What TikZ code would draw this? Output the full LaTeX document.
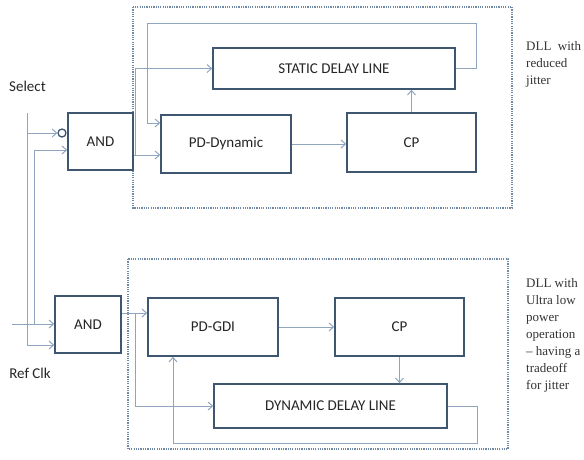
\documentclass[tikz,border=0pt]{standalone}
\usepackage{fontspec}
\setmainfont{Carlito}
\newfontfamily\notefont[Ligatures=TeX]{Liberation Serif}
\usetikzlibrary{arrows.meta,calc}
\definecolor{boxc}{HTML}{3F5670}
\definecolor{wirec}{HTML}{8FA5BD}
\definecolor{framec}{HTML}{7089A5}
\definecolor{notec}{HTML}{333333}
\begin{document}
\begin{tikzpicture}[x=1pt,y=-1pt,
  blk/.style={draw=boxc, line width=1.5pt, fill=white, inner sep=0pt,
    font=\fontsize{15}{18}\selectfont, text=black!85},
  wire/.style={draw=wirec, line width=1pt},
  arr/.style={wire, -{Straight Barb[length=4.5pt,width=8pt]}},
  frame/.style={draw=framec, line width=1.8pt, dash pattern=on 1.2pt off 1.1pt},
  lbl/.style={font=\fontsize{15}{18}\selectfont, text=black!85, inner sep=0pt},
  note/.style={font=\notefont\fontsize{13}{17}\selectfont, text=notec,
    align=left, anchor=north west, inner sep=0pt}]
\useasboundingbox (0,0) rectangle (584,459);

% dotted enclosures of the two DLL variants
\draw[frame] (133,7) rectangle (512,208);
\draw[frame] (128,259) rectangle (508,449);

% upper DLL blocks
\node[blk, minimum width=65pt, minimum height=57pt] (and1) at (100.5,141.5) {AND};
\node[blk, minimum width=130pt, minimum height=58pt] (pdd) at (226,144) {PD-Dynamic};
\node[blk, minimum width=129pt, minimum height=59pt] (cp1) at (411.5,142.5) {CP};
\node[blk, minimum width=242pt, minimum height=41pt] (sdl) at (334,68.5) {STATIC DELAY LINE};
\node[circle, draw=boxc, line width=1.3pt, fill=white, minimum size=8pt, inner sep=0pt]
  (inv) at (62,133) {};

% lower DLL blocks
\node[blk, minimum width=66pt, minimum height=57pt] (and2) at (88,324.5) {AND};
\node[blk, minimum width=130pt, minimum height=58pt] (pdg) at (213,327) {PD-GDI};
\node[blk, minimum width=129pt, minimum height=58pt] (cp2) at (399.5,327) {CP};
\node[blk, minimum width=233pt, minimum height=44pt] (ddl) at (330.5,406) {DYNAMIC DELAY LINE};

% input labels
\node[lbl] (sel) at (27.5,86) {Select};
\node[lbl] (ref) at (30,373) {Ref Clk};

% junction and corner points
\coordinate (s0) at (27,113);
\coordinate (s1) at (27,133);
\coordinate (s2) at (27,345);
\coordinate (r0) at (12,324);
\coordinate (r1) at (34,324);
\coordinate (r2) at (34,150);
\coordinate (u0) at (135,155);
\coordinate (u1) at (135,68.5);
\coordinate (f0) at (476,68.5);
\coordinate (f1) at (476,23);
\coordinate (f2) at (147,23);
\coordinate (f3) at (147,123);
\coordinate (l0) at (135,313);
\coordinate (l1) at (135,406);
\coordinate (g0) at (477,406);
\coordinate (g1) at (477,443);
\coordinate (g2) at (173,443);

% select and reference clock distribution
\draw[wire] (s0) -- (s2);
\draw[arr] (s1) -- (inv.west);
\draw[arr] (s2) -- (and2.west |- s2);
\draw[arr] (r0) -- (and2.west |- r0);
\draw[wire] (r1) -- (r2);
\draw[arr] (r2) -- (and1.west |- r2);

% upper DLL connections
\draw[arr] (and1.east |- u0) -- (pdd.west |- u0);
\draw[arr] (u0) -- (u1) -- (sdl.west);
\draw[arr] (sdl.east) -- (f0) -- (f1) -- (f2) -- (f3) -- (pdd.west |- f3);
\draw[arr] (cp1.north) -- (cp1.north |- sdl.south);
\draw[arr] (pdd.east) -- (cp1.west |- pdd.east);

% lower DLL connections
\draw[arr] (and2.east |- l0) -- (pdg.west |- l0);
\draw[arr] (l0) -- (l1) -- (ddl.west);
\draw[arr] (pdg.east) -- (cp2.west);
\draw[arr] (cp2.south) -- (cp2.south |- ddl.north);
\draw[arr] (ddl.east) -- (g0) -- (g1) -- (g2) -- (g2 |- pdg.south);

% side notes
\node[note] (n1) at (526,41) {DLL\hspace{0.5em}with\\reduced\\jitter};
\node[note] (n2) at (526,278) {DLL with\\Ultra low\\power\\operation\\– having a\\tradeoff\\for jitter};
\end{tikzpicture}
\end{document}
